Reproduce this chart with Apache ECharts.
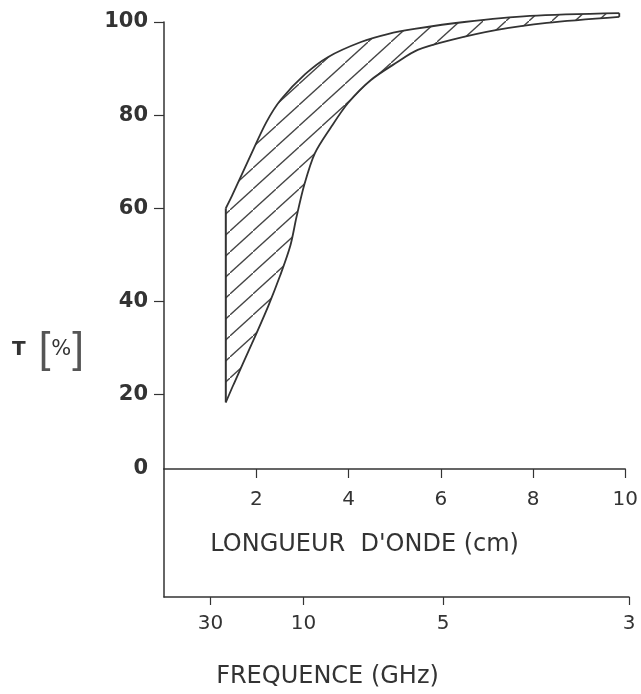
<!DOCTYPE html>
<html>
<head>
<meta charset="utf-8">
<script src="https://cdn.jsdelivr.net/npm/echarts@6/dist/echarts.min.js"></script>
<style>
html,body{margin:0;padding:0;background:#fff;}
#chart{width:641px;height:694px;}
</style>
</head>
<body>
<div id="chart"></div>
<script>
// ---- data ----
// upper (left) boundary of the hatched band: wavelength (cm) and transmission T (%)
const upperX = [1.34, 1.47, 1.87, 2.22, 2.54, 3.06, 3.56, 4.27, 4.85, 5.43, 6.51, 7.93, 9.87];
const upperT = [60, 62.6, 71.2, 78.5, 83.4, 88.8, 92.5, 95.7, 97.4, 98.5, 100, 101.3, 101.9];
// vertical left edge of the band
const edgeX = [1.34, 1.34];
const edgeT = [18.3, 60];
// lower (right) boundary of the band
const lowerX = [1.34, 1.51, 1.90, 2.26, 2.52, 2.74, 2.87, 3.04, 3.27, 3.62, 3.99, 4.48, 5.06, 5.50, 6.21, 7.22, 8.30, 9.87];
const lowerT = [18.3, 22.2, 30.8, 39, 45.6, 52, 58, 65, 71.8, 77.4, 82.6, 87.5, 91.4, 94, 96.1, 98.3, 99.8, 101.1];

// axis ticks
const yMin = 4;
const yTickValues = [yMin, 20, 40, 60, 80, 100];
const yTickLabels = ['0', '20', '40', '60', '80', '100'];
const wavelengthTicks = [2, 4, 6, 8, 10];
const freqTickPos = [1, 3, 6, 10];          // wavelength (cm) positions
const freqTickLabels = ['30', '10', '5', '3']; // GHz

// ---- hatch pattern ----
function makeHatch() {
  const w = 23, h = 21;
  const c = document.createElement('canvas');
  c.width = w; c.height = h;
  const ctx = c.getContext('2d');
  ctx.strokeStyle = '#444';
  ctx.lineWidth = 1.3;
  ctx.beginPath();
  ctx.moveTo(-w, 2 * h); ctx.lineTo(2 * w, -h);
  ctx.stroke();
  return c;
}
const hatch = makeHatch();

const pts = (xs, ys) => xs.map((x, i) => [x, ys[i]]);
const lineColor = '#333';
const textColor = '#333';
const font = 'DejaVu Sans';

const chart = echarts.init(document.getElementById('chart'), null, {renderer: 'canvas'});
chart.setOption({
  animation: false,
  backgroundColor: '#fff',
  grid: [
    {left: 164, right: 12, top: 22, bottom: 225},
    {left: 164, right: 12, top: 469, bottom: 97}
  ],
  xAxis: [
    {
      type: 'value', gridIndex: 0, min: 0, max: 10, position: 'bottom',
      name: "LONGUEUR  D'ONDE (cm)", nameLocation: 'middle', nameGap: 64,
      nameTextStyle: {fontFamily: font, fontSize: 24, color: textColor, padding: [0, 60, 0, 0]},
      axisLine: {show: true, lineStyle: {color: lineColor, width: 1.5}},
      axisTick: {show: true, length: 9, customValues: wavelengthTicks, lineStyle: {color: lineColor, width: 1.2}},
      axisLabel: {customValues: wavelengthTicks, margin: 21, fontFamily: font, fontSize: 20, color: textColor},
      splitLine: {show: false}
    },
    {
      type: 'value', gridIndex: 1, min: 0, max: 10, position: 'bottom',
      name: 'FREQUENCE (GHz)', nameLocation: 'middle', nameGap: 68,
      nameTextStyle: {fontFamily: font, fontSize: 24, color: textColor, padding: [0, 138, 0, 0]},
      axisLine: {show: true, lineStyle: {color: lineColor, width: 1.5}},
      axisTick: {show: true, length: 8, customValues: freqTickPos, lineStyle: {color: lineColor, width: 1.2}},
      axisLabel: {
        customValues: freqTickPos, margin: 17, fontFamily: font, fontSize: 20, color: textColor,
        formatter: v => freqTickLabels[freqTickPos.indexOf(v)]
      },
      splitLine: {show: false}
    }
  ],
  yAxis: [
    {
      type: 'value', gridIndex: 0, min: yMin, max: 100,
      axisLine: {show: true, lineStyle: {color: lineColor, width: 1.5}},
      axisTick: {show: true, length: 10, customValues: yTickValues.slice(1), lineStyle: {color: lineColor, width: 1.2}},
      axisLabel: {
        customValues: yTickValues, margin: 16, fontFamily: font, fontSize: 21, fontWeight: 'bold', color: textColor,
        formatter: v => yTickLabels[yTickValues.indexOf(v)]
      },
      splitLine: {show: false}
    },
    {
      type: 'value', gridIndex: 1, min: 0, max: 1,
      axisLine: {show: true, lineStyle: {color: lineColor, width: 1.5}},
      axisTick: {show: false}, axisLabel: {show: false}, splitLine: {show: false}
    }
  ],
  graphic: [{
    type: 'text', left: 12, top: 329,
    style: {
      text: '{t|T}{g|}{b|[}{p|%}{b|]}',
      rich: {
        t: {fontFamily: font, fontSize: 20, fontWeight: 'bold', fill: textColor},
        g: {width: 13},
        b: {fontFamily: 'Liberation Sans', fontSize: 42, fill: '#555'},
        p: {fontFamily: font, fontSize: 21, fill: textColor, padding: [0, 1, 0, 1]}
      }
    }
  }],
  series: [
    {
      type: 'custom', xAxisIndex: 0, yAxisIndex: 0, clip: false, silent: true, z: 1,
      data: [[edgeX[0], edgeT[0]]],
      renderItem: (params, api) => {
        const poly = [];
        pts(edgeX, edgeT).forEach(p => poly.push(api.coord(p)));
        pts(upperX, upperT).forEach(p => poly.push(api.coord(p)));
        pts(lowerX, lowerT).reverse().forEach(p => poly.push(api.coord(p)));
        return {
          type: 'polygon',
          shape: {points: poly},
          style: {fill: {image: hatch, repeat: 'repeat'}, stroke: null}
        };
      }
    },
    {
      type: 'line', data: pts(edgeX, edgeT), clip: false, symbol: 'none', smooth: false, z: 3,
      lineStyle: {color: lineColor, width: 2}
    },
    {
      type: 'line', data: pts(upperX, upperT), clip: false, symbol: 'none', smooth: 0.3, z: 3,
      lineStyle: {color: lineColor, width: 1.8}
    },
    {
      type: 'line', data: pts(lowerX, lowerT), clip: false, symbol: 'none', smooth: 0.3, z: 3,
      lineStyle: {color: lineColor, width: 1.8}
    },
    {
      type: 'line', data: [[upperX[upperX.length - 1], upperT[upperT.length - 1]], [lowerX[lowerX.length - 1], lowerT[lowerT.length - 1]]],
      clip: false, symbol: 'none', z: 3, lineStyle: {color: lineColor, width: 1.8}
    }
  ]
});
</script>
</body>
</html>
